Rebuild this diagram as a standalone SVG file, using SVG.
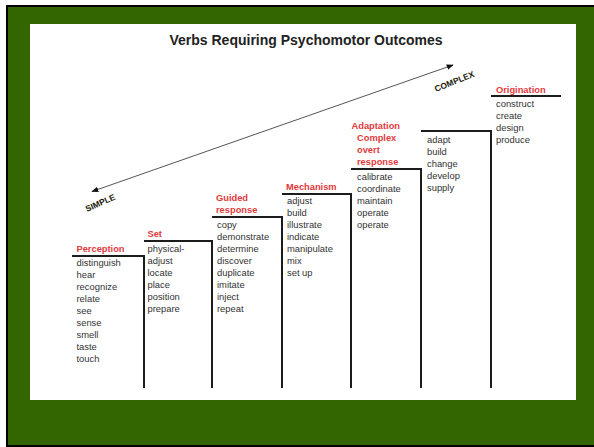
<svg xmlns="http://www.w3.org/2000/svg" width="594" height="447" viewBox="0 0 594 447">
<defs>
<marker id="ah" viewBox="0 0 10 10" refX="9" refY="5" markerWidth="7" markerHeight="7" orient="auto-start-reverse" markerUnits="userSpaceOnUse">
<path d="M0,1 L10,5 L0,9 z" fill="#111"/>
</marker>
<style>
.step{fill:none;stroke:#1c1c1c;stroke-width:2}
.lbl{font-family:"Liberation Sans",Arial,sans-serif;font-weight:bold;font-size:9.3px;fill:#e2393b}
.lst{font-family:"Liberation Sans",Arial,sans-serif;font-size:9.4px;fill:#333}
.dir{font-family:"Liberation Sans",Arial,sans-serif;font-weight:900;font-size:8.5px;fill:#1a1a08}
</style>
</defs>
<rect x="0" y="0" width="594" height="447" fill="#ffffff"/>
<rect x="6" y="5" width="588" height="442" fill="#000"/>
<rect x="8" y="7" width="586" height="438" fill="#336600"/>
<rect x="30" y="24" width="546" height="376" fill="#ffffff"/>
<text x="306" y="45" text-anchor="middle" font-family="'Liberation Sans',Arial,sans-serif" font-weight="bold" font-size="14" fill="#222">Verbs Requiring Psychomotor Outcomes</text>

<g id="connectors">
<line x1="92" y1="191.5" x2="453" y2="65" stroke="#555" stroke-width="1" marker-start="url(#ah)" marker-end="url(#ah)"/>
<text class="dir" transform="translate(87,212) rotate(-24)">SIMPLE</text>
<text class="dir" transform="translate(436,92) rotate(-22)">COMPLEX</text>
</g>

<g id="perception">
<path class="step" d="M72,256 H144 V388"/>
<text class="lbl" x="76.5" y="251.5">Perception</text>
<text class="lst" x="76.5" y="265.5">distinguish</text>
<text class="lst" x="76.5" y="277.5">hear</text>
<text class="lst" x="76.5" y="289.5">recognize</text>
<text class="lst" x="76.5" y="301.5">relate</text>
<text class="lst" x="76.5" y="313.5">see</text>
<text class="lst" x="76.5" y="325.5">sense</text>
<text class="lst" x="76.5" y="337.5">smell</text>
<text class="lst" x="76.5" y="349.5">taste</text>
<text class="lst" x="76.5" y="361.5">touch</text>
</g>

<g id="set">
<path class="step" d="M144,241 H212 V388"/>
<text class="lbl" x="147.5" y="237">Set</text>
<text class="lst" x="147.5" y="251.5">physical-</text>
<text class="lst" x="147.5" y="263.5">adjust</text>
<text class="lst" x="147.5" y="275.5">locate</text>
<text class="lst" x="147.5" y="287.5">place</text>
<text class="lst" x="147.5" y="299.5">position</text>
<text class="lst" x="147.5" y="311.5">prepare</text>
</g>

<g id="guided-response">
<path class="step" d="M212,217 H282 V388"/>
<text class="lbl" x="216" y="200.5">Guided</text>
<text class="lbl" x="216" y="213">response</text>
<text class="lst" x="217" y="227.5">copy</text>
<text class="lst" x="217" y="239.5">demonstrate</text>
<text class="lst" x="217" y="251.5">determine</text>
<text class="lst" x="217" y="263.5">discover</text>
<text class="lst" x="217" y="275.5">duplicate</text>
<text class="lst" x="217" y="287.5">imitate</text>
<text class="lst" x="217" y="299.5">inject</text>
<text class="lst" x="217" y="311.5">repeat</text>
</g>

<g id="mechanism">
<path class="step" d="M282,194 H351 V388"/>
<text class="lbl" x="286" y="189.5">Mechanism</text>
<text class="lst" x="287" y="204">adjust</text>
<text class="lst" x="287" y="216">build</text>
<text class="lst" x="287" y="228">illustrate</text>
<text class="lst" x="287" y="240">indicate</text>
<text class="lst" x="287" y="252">manipulate</text>
<text class="lst" x="287" y="264">mix</text>
<text class="lst" x="287" y="276">set up</text>
</g>

<g id="adaptation">
<path class="step" d="M351,169 H421 V388"/>
<text class="lbl" x="351.5" y="129">Adaptation</text>
<text class="lbl" x="357" y="141">Complex</text>
<text class="lbl" x="357" y="153">overt</text>
<text class="lbl" x="357" y="165">response</text>
<text class="lst" x="357" y="179.5">calibrate</text>
<text class="lst" x="357" y="191.5">coordinate</text>
<text class="lst" x="357" y="203.5">maintain</text>
<text class="lst" x="357" y="215.5">operate</text>
<text class="lst" x="357" y="227.5">operate</text>
</g>

<g id="adapt-step">
<path class="step" d="M421,131 H491 V388"/>
<text class="lst" x="427" y="142.5">adapt</text>
<text class="lst" x="427" y="154.5">build</text>
<text class="lst" x="427" y="166.5">change</text>
<text class="lst" x="427" y="178.5">develop</text>
<text class="lst" x="427" y="190.5">supply</text>
</g>

<g id="origination">
<path class="step" d="M491,96 H561"/>
<text class="lbl" x="496" y="92.5">Origination</text>
<text class="lst" x="496" y="106.5">construct</text>
<text class="lst" x="496" y="118.5">create</text>
<text class="lst" x="496" y="130.5">design</text>
<text class="lst" x="496" y="142.5">produce</text>
</g>
</svg>
